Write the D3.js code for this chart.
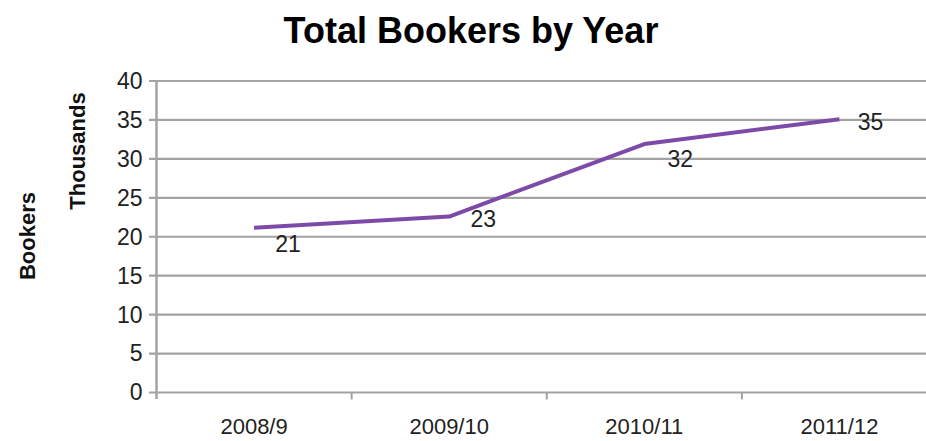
<!DOCTYPE html>
<html><head><meta charset="utf-8">
<script src="https://cdn.jsdelivr.net/npm/d3@7"></script>
<style>body{margin:0;background:#fff}svg{display:block;font-family:"Liberation Sans",Arial,sans-serif}</style>
</head><body>
<svg id="c" width="926" height="441"></svg>
<script>
const categories = ["2008/9","2009/10","2010/11","2011/12"];
const bookers = [21.15, 22.6, 31.9, 35.1];
const dataLabels = ["21","23","32","35"];
const yTicks = [0,5,10,15,20,25,30,35,40];
const title = "Total Bookers by Year";

const svg = d3.select("#c");
const x = d3.scaleBand().domain(categories).range([156.5, 937]).padding(0);
const y = d3.scaleLinear().domain([0,40]).range([392.5, 81]);
const grey = "#a3a3a3";

// gridlines
svg.append("g").selectAll("line").data(yTicks).join("line")
  .attr("x1",149).attr("x2",926)
  .attr("y1",d=>y(d)).attr("y2",d=>y(d))
  .attr("stroke",grey).attr("stroke-width",2.2);

// y axis
const ya = svg.append("g").attr("transform","translate(156.5,0)")
  .call(d3.axisLeft(y).tickValues(yTicks).tickSize(7).tickPadding(7));
ya.select(".domain").remove();
ya.selectAll(".tick line").remove();
ya.selectAll("text").attr("font-size",23).attr("fill","#222").attr("font-family","Liberation Sans, Arial, sans-serif");
svg.append("line").attr("x1",156.5).attr("x2",156.5).attr("y1",80).attr("y2",399)
  .attr("stroke",grey).attr("stroke-width",2.5);

// x axis
const xa = svg.append("g").attr("transform",`translate(0,${y(0)})`)
  .call(d3.axisBottom(x).tickSize(0).tickPadding(26));
xa.select(".domain").remove();
xa.selectAll("text").attr("font-size",22).attr("fill","#222").attr("font-family","Liberation Sans, Arial, sans-serif");
svg.append("g").selectAll("line").data(categories.slice(1)).join("line")
  .attr("x1",d=>x(d)).attr("x2",d=>x(d)).attr("y1",y(0)).attr("y2",y(0)+7)
  .attr("stroke",grey).attr("stroke-width",2);

// line
const cx = d => x(d) + x.bandwidth()/2;
const line = d3.line().x((d,i)=>cx(categories[i])).y(d=>y(d));
svg.append("path").datum(bookers).attr("d",line)
  .attr("fill","none").attr("stroke","#7e4aa8").attr("stroke-width",4).attr("stroke-linejoin","round");

// data labels
const off = [[34,24],[34,10],[36,23],[31,11]];
svg.append("g").selectAll("text").data(bookers).join("text")
  .attr("x",(d,i)=>cx(categories[i])+off[i][0])
  .attr("y",(d,i)=>y(d)+off[i][1])
  .attr("text-anchor","middle").attr("font-size",23).attr("fill","#222")
  .text((d,i)=>dataLabels[i]);

// title
svg.append("text").attr("x",471).attr("y",43).attr("text-anchor","middle")
  .attr("font-size",36).attr("font-weight","bold").attr("fill","#000").text(title);

// axis titles
svg.append("text").attr("transform","translate(85,151) rotate(-90)").attr("text-anchor","middle")
  .attr("font-size",22).attr("font-weight","bold").attr("fill","#111").text("Thousands");
svg.append("text").attr("transform","translate(35,236) rotate(-90)").attr("text-anchor","middle")
  .attr("font-size",22).attr("font-weight","bold").attr("fill","#111").text("Bookers");
</script>
</body></html>
